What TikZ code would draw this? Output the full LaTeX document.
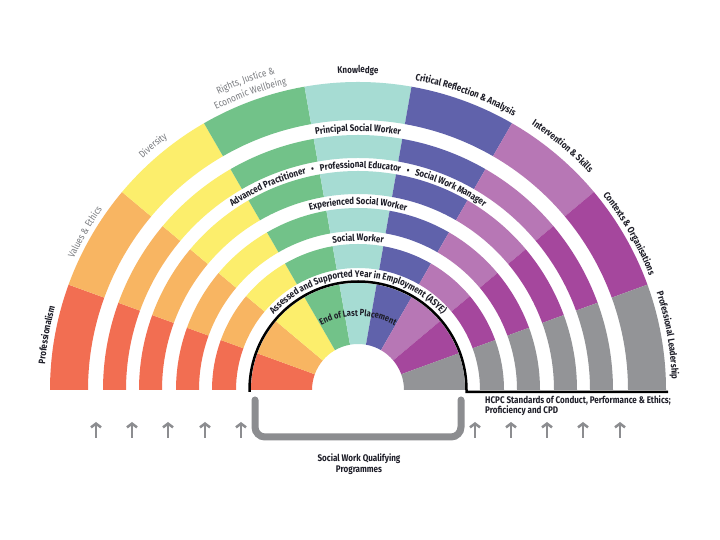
\documentclass[tikz,border=0pt]{standalone}
\usepackage{fontspec}
\setmainfont{Fira Sans}
\newfontfamily\condfont[FakeStretch=0.84]{Fira Sans}
\usetikzlibrary{decorations.text,arrows.meta}
\definecolor{cRed}{HTML}{F26E52}
\definecolor{cOrange}{HTML}{F8B562}
\definecolor{cYellow}{HTML}{FCEE6C}
\definecolor{cGreen}{HTML}{72C289}
\definecolor{cTeal}{HTML}{A6DCD3}
\definecolor{cBlue}{HTML}{6062AB}
\definecolor{cLilac}{HTML}{B777B5}
\definecolor{cMagenta}{HTML}{A5479D}
\definecolor{cGray}{HTML}{939497}
\definecolor{txtdark}{HTML}{1E1E28}
\definecolor{txtgray}{HTML}{7A7C80}
\definecolor{brgray}{HTML}{8C8D90}
\newcommand\lbA{\condfont\bfseries\fontsize{9.5}{11}\selectfont\color{txtdark}}
\newcommand\lbG{\condfont\fontsize{9.8}{11}\selectfont\color{txtgray}}
\newcommand\lbE{\condfont\bfseries\fontsize{9}{10}\selectfont\color{txtdark}}
\tikzset{
  curvlab/.style={decorate, decoration={text along path, text={#1}, text align=center}},
  uparrow/.style={draw=brgray, line width=2.5pt, -{Straight Barb[length=3.8pt,width=10pt]}},
  bottomtext/.style={font=\condfont\bfseries\fontsize{9.6}{10.5}\selectfont, text=txtdark, inner sep=0pt},
}
\begin{document}
\begin{tikzpicture}[x=1pt,y=1pt]
\useasboundingbox (0,0) rectangle (720,540);
\fill[white] (0,0) rectangle (720,540);
\begin{scope}[shift={(358,150)}]
  % sectors
  \foreach \c [count=\i from 0] in {cRed,cOrange,cYellow,cGreen,cTeal,cBlue,cLilac,cMagenta,cGray}{
    \pgfmathsetmacro\aa{180-20*\i}
    \pgfmathsetmacro\bb{160-20*\i}
    \foreach \ri/\ro in {46/107,122/146,159/182,196/219,232/255,270/308}{
      \fill[\c] (\aa:\ri pt) arc[start angle=\aa,end angle=\bb,radius=\ri pt]
        -- (\bb:\ro pt) arc[start angle=\bb,end angle=\aa,radius=\ro pt] -- cycle;
    }
  }
  % black boundary
  \draw[black, line width=2.5pt] (-108.5,-2) -- (180:108.5pt)
     arc[start angle=180,end angle=0,radius=108.5pt] -- (108.5,-2) -- (310,-2);
  % outer labels
  \path[curvlab={|\lbA|Professionalism}] (215:314pt) arc[start angle=215,end angle=125,radius=314pt];
  \path[curvlab={|\lbG|Values {\&} Ethics}] (195:313pt) arc[start angle=195,end angle=105,radius=313pt];
  \path[curvlab={|\lbG|Diversity}] (175:316pt) arc[start angle=175,end angle=85,radius=316pt];
  \path[curvlab={|\lbG|Rights, Justice {\&}}] (155:327pt) arc[start angle=155,end angle=65,radius=327pt];
  \path[curvlab={|\lbG|Economic Wellbeing}] (155:314pt) arc[start angle=155,end angle=65,radius=314pt];
  \path[curvlab={|\lbA|Knowledge}] (135:317pt) arc[start angle=135,end angle=45,radius=317pt];
  \path[curvlab={|\lbA|Critical Reflection {\&} Analysis}] (115:315pt) arc[start angle=115,end angle=25,radius=315pt];
  \path[curvlab={|\lbA|Intervention {\&} Skills}] (95:317pt) arc[start angle=95,end angle=5,radius=317pt];
  \path[curvlab={|\lbA|Contexts {\&} Organisations}] (75:313pt) arc[start angle=75,end angle=-15,radius=313pt];
  \path[curvlab={|\lbA|Professional Leadership}] (55:314pt) arc[start angle=55,end angle=-35,radius=314pt];
  % inner labels
  \path[curvlab={|\lbA|Principal Social Worker}] (170:258.5pt) arc[start angle=170,end angle=10,radius=258.5pt];
  \path[curvlab={|\lbA|Advanced Practitioner {\kern4pt}•{\kern4pt} Professional Educator {\kern4pt}•{\kern4pt} Social Work Manager}] (170:222pt) arc[start angle=170,end angle=10,radius=222pt];
  \path[curvlab={|\lbA|Experienced Social Worker}] (170:185.5pt) arc[start angle=170,end angle=10,radius=185.5pt];
  \path[curvlab={|\lbA|Social Worker}] (170:149pt) arc[start angle=170,end angle=10,radius=149pt];
  \path[curvlab={|\lbA|Assessed and Supported Year in Employment (ASYE)}] (175:113pt) arc[start angle=175,end angle=5,radius=113pt];
  \path[curvlab={|\lbE|End of Last Placement}] (160:74pt) arc[start angle=160,end angle=20,radius=74pt];
\end{scope}
% bracket
\coordinate (bl) at (255,140);
\coordinate (br) at (461,140);
\draw[brgray, line width=7pt, rounded corners=10pt, line cap=round] (bl) -- (255,103) -- (461,103) -- (br);
\node[bottomtext, align=center] (swqp) at (359,76) {Social Work Qualifying\\Programmes};
\node[bottomtext, align=left, anchor=north west] (hcpc) at (485,144.5) {HCPC Standards of Conduct, Performance \& Ethics;\\Proficiency and CPD};
% arrows
\foreach \x in {96,132,168,205,241,475,511,547,583,620}{
  \coordinate (a\x) at (\x,102);
  \coordinate (b\x) at (\x,118);
  \draw[uparrow] (a\x) -- (b\x);
}
\end{tikzpicture}
\end{document}
